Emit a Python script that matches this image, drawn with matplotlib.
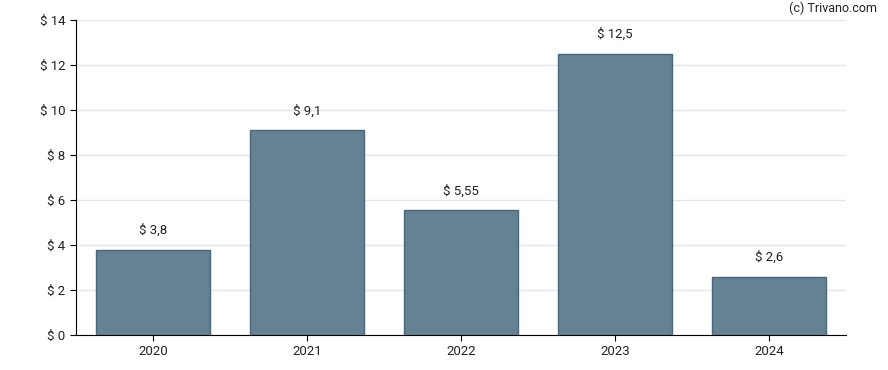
import matplotlib
matplotlib.use("Agg")
import matplotlib.pyplot as plt

years = ["2020", "2021", "2022", "2023", "2024"]
values = [3.8, 9.1, 5.55, 12.5, 2.6]
labels = ["$ 3,8", "$ 9,1", "$ 5,55", "$ 12,5", "$ 2,6"]
yticks = [0, 2, 4, 6, 8, 10, 12, 14]

plt.rcParams['font.family'] = ['Roboto', 'DejaVu Sans']
plt.rcParams['font.size'] = 9.5

fig = plt.figure(figsize=(8.88, 3.70), dpi=100)
ax = fig.add_axes([76 / 888, 35 / 370, 770 / 888, 315 / 370])

x = range(len(years))
ax.bar(x, values, width=0.74, color='#658293', edgecolor='#4b667b', linewidth=1, zorder=3)
for i, (v, lab) in enumerate(zip(values, labels)):
    ax.annotate(lab, (i, v), xytext=(0, 9), textcoords='offset points',
                ha='center', va='bottom', color='#222222')

ax.set_xlim(-0.5, 4.5)
ax.set_ylim(0, 14)
ax.set_xticks(list(x))
ax.set_xticklabels(years)
ax.set_yticks(yticks)
ax.set_yticklabels([f"$ {t}" for t in yticks])
ax.grid(axis='y', color='#e6e6e6', linewidth=1, zorder=0)
ax.set_axisbelow(True)
for s in ['top', 'right']:
    ax.spines[s].set_visible(False)
ax.spines['left'].set_color('black')
ax.spines['bottom'].set_color('black')
ax.tick_params(axis='both', length=4, color='black', labelcolor='#222222')

fig.text(877 / 888, 1 - 8 / 370, "(c) Trivano.com", ha='right', va='center', fontsize=9, color='#222222')

fig.savefig("out.png", dpi=100)
